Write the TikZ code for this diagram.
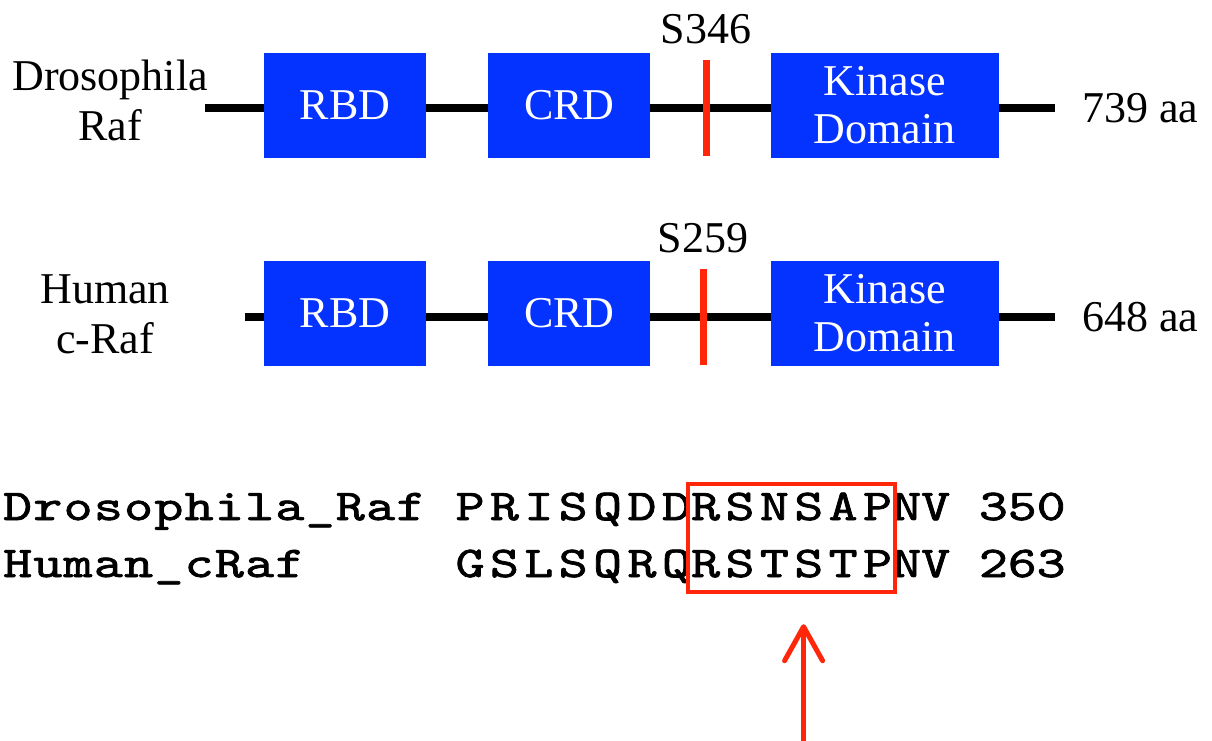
\documentclass[tikz,border=0pt]{standalone}
\usepackage{fontspec}
\usepackage{graphicx}
\setmainfont{Liberation Serif}
\newfontfamily\namefont{lmmono10-regular.otf}[FakeBold=1.5,LetterSpace=2.5]
\newfontfamily\seqfont{lmmono10-regular.otf}[FakeBold=1.5,LetterSpace=10]
\newfontfamily\numfont{lmmono10-regular.otf}[FakeBold=1.5,LetterSpace=0]
\usetikzlibrary{arrows.meta,positioning,fit}
\definecolor{domainblue}{RGB}{4,50,255}
\definecolor{sitered}{RGB}{255,38,10}
\newcommand{\seqtext}[2]{{#1\scalebox{1.25}[1]{#2}}}
\tikzset{
    %Define standard arrow tip
    >={Straight Barb[round,length=34pt,width=38pt,line width=5pt]},
    %Define style for the protein line
    backbone/.style={
           line width=8pt,
           black},
    %Define style for boxes
    domainbox/.style={
           rectangle,
           fill=domainblue,
           text=white,
           minimum width=162pt,
           minimum height=105pt,
           inner sep=0pt,
           align=center,
           font=\fontsize{44}{48}\selectfont},
    kinasebox/.style={
           domainbox,
           minimum width=228pt},
    protname/.style={
           align=center,
           inner sep=0pt,
           font=\fontsize{44}{50}\selectfont},
    sitename/.style={
           inner sep=0pt,
           font=\fontsize{44}{48}\selectfont},
    sitemark/.style={
           line width=7pt,
           sitered},
    seqline/.style={
           inner sep=0pt,
           text height=31pt,
           text depth=10pt,
           font=\fontsize{44}{48}\selectfont},
    motifbox/.style={
           draw=sitered,
           line width=4pt,
           inner xsep=3pt,
           inner ysep=5pt},
    % Define arrow style
    pointer/.style={
           ->,
           line width=5pt,
           sitered}
}

\begin{document}
\begin{tikzpicture}[x=1pt,y=-1pt]
\useasboundingbox (0,0) rectangle (1212,740);
% Drosophila Raf
\coordinate (dstart) at (205,108);
\coordinate (dend) at (1055,108);
\draw[backbone] (dstart) -- (dend);
\node[protname] (dname) at (110,100) {Drosophila\\Raf};
\node[domainbox] (drbd) at (345,105) {RBD};
\node[domainbox, right=62pt of drbd] (dcrd) {CRD};
\node[kinasebox, right=120pt of dcrd] (dkin) {Kinase\\Domain};
\coordinate (dsite) at (706,108);
\draw[sitemark] ([yshift=48pt]dsite) coordinate (dtop) -- ([yshift=-48pt]dsite);
\node[sitename, above=16pt of dtop] (dser) {S346};
\node[sitename, right=27pt of dend] (dlen) {739 aa};
% Human c-Raf
\coordinate (hstart) at (245,317);
\coordinate (hend) at (1055,317);
\draw[backbone] (hstart) -- (hend);
\node[protname] (hname) at (105,314) {Human\\c-Raf};
\node[domainbox] (hrbd) at (345,313) {RBD};
\node[domainbox, right=62pt of hrbd] (hcrd) {CRD};
\node[kinasebox, right=120pt of hcrd] (hkin) {Kinase\\Domain};
\coordinate (hsite) at (703,317);
\draw[sitemark] ([yshift=48pt]hsite) coordinate (htop) -- ([yshift=-48pt]hsite);
\node[sitename, above=16pt of htop] (hser) {S259};
\node[sitename, right=27pt of hend] (hlen) {648 aa};
% alignment
\node[seqline, anchor=base west] (dseqname) at (3,520) {\seqtext\namefont{Drosophila\_Raf}};
\node[seqline, anchor=base west] (dmot) at (691,520) {\seqtext\seqfont{RSNSAP}};
\node[seqline, left=0pt of dmot] (dpre) {\seqtext\seqfont{PRISQDD}};
\node[seqline, right=0pt of dmot] (dsuf) {\seqtext\numfont{NV 350}};
\node[seqline, anchor=base west] (hseqname) at (3,577) {\seqtext\namefont{Human\_cRaf}};
\node[seqline, anchor=base west] (hmot) at (691,577) {\seqtext\seqfont{RSTSTP}};
\node[seqline, left=0pt of hmot] (hpre) {\seqtext\seqfont{GSLSQRQ}};
\node[seqline, right=0pt of hmot] (hsuf) {\seqtext\numfont{NV 263}};
\node[motifbox, fit=(dmot)(hmot)] (motif) {};
\path (motif.south) ++(12pt,-30pt) coordinate (atip);
\path (atip) ++(0pt,-140pt) coordinate (afoot);
\draw[pointer] (afoot) -- (atip);
\end{tikzpicture}
\end{document}
